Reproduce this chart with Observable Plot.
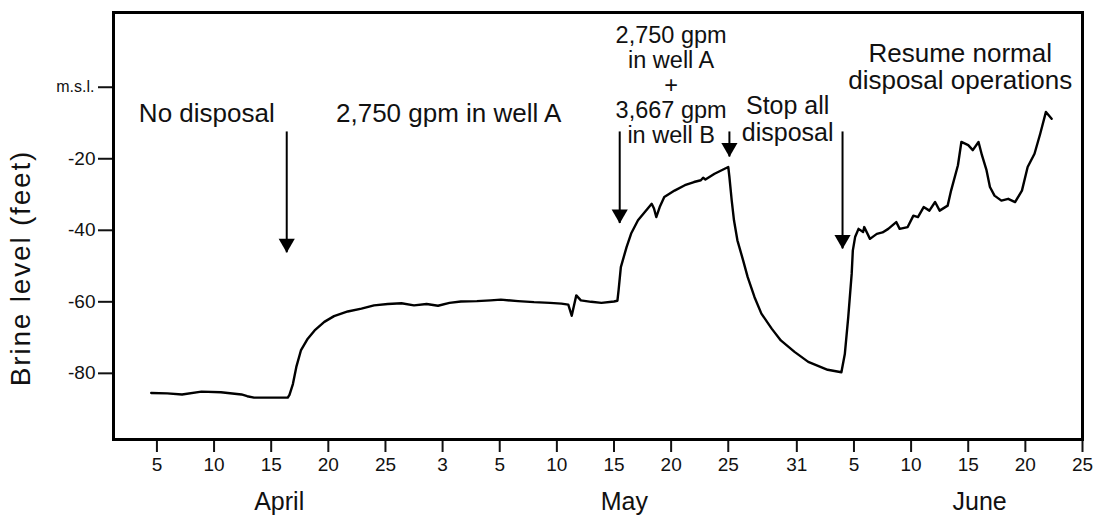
<!DOCTYPE html>
<html><head><meta charset="utf-8">
<script src="https://cdn.jsdelivr.net/npm/d3@7"></script>
<script src="https://cdn.jsdelivr.net/npm/@observablehq/plot@0.6"></script>
<style>
body{margin:0;background:#fff;}
#chart svg{font-family:"Liberation Sans",Arial,Helvetica,sans-serif;background:#fff;}
</style>
</head><body><div id="chart"></div>
<script>
// Day index along the (non-uniform) axis: one tick every 5 units, "31" one unit further
const day = [4.5,5.9,7.2,8.9,10.6,12.4,12.9,13.5,16.45,16.6,16.9,17.2,17.6,18.2,18.8,19.65,20.5,21.7,22.9,24.0,25.2,26.4,27.5,28.6,29.6,30.6,31.6,33.0,34.2,35.1,36.6,38.0,39.4,40.4,41.0,41.3,41.5,41.7,42.1,43.0,43.9,45.0,45.3,45.4,45.6,46.1,46.5,47.1,47.7,48.3,48.5,48.7,49.0,49.4,50.3,51.2,52.0,52.6,52.8,53.0,53.8,55.0,55.1,55.3,55.5,55.8,56.3,56.7,57.3,57.9,58.8,59.6,60.8,62.0,63.7,64.9,65.2,65.5,65.8,65.9,66.1,66.4,66.8,66.9,67.4,68.0,68.5,69.0,69.7,70.0,70.7,71.2,71.6,72.1,72.6,73.1,73.5,74.2,74.5,75.1,75.4,76.0,76.4,76.9,77.2,77.6,77.9,78.3,78.9,79.5,80.1,80.7,81.2,81.8,82.3,82.8,83.3];
const level = [-85.5,-85.6,-85.9,-85.1,-85.3,-85.9,-86.4,-86.8,-86.8,-86.0,-83.0,-78.2,-73.6,-70.3,-68.0,-65.6,-64.0,-62.7,-61.9,-61.0,-60.6,-60.4,-61.0,-60.6,-61.1,-60.3,-59.9,-59.8,-59.6,-59.4,-59.8,-60.1,-60.3,-60.5,-60.8,-63.9,-61.0,-58.2,-59.6,-60.0,-60.3,-59.9,-59.7,-56.8,-50.3,-44.7,-40.9,-37.2,-34.9,-32.6,-33.9,-36.3,-33.5,-30.7,-28.9,-27.4,-26.5,-26.0,-25.3,-25.8,-24.2,-22.3,-25.1,-31.6,-37.2,-42.8,-48.4,-53.1,-58.7,-63.3,-67.5,-70.8,-74.0,-76.8,-79.0,-79.7,-74.6,-64.3,-52.2,-45.7,-41.9,-39.6,-40.5,-39.1,-42.4,-41.0,-40.6,-39.6,-37.7,-39.6,-39.1,-35.9,-36.3,-33.5,-34.5,-32.1,-34.5,-33.1,-28.9,-21.8,-15.3,-16.2,-17.6,-15.3,-19.0,-23.2,-27.9,-30.3,-31.7,-31.2,-32.1,-28.9,-22.3,-18.6,-13.0,-6.9,-8.8];

const tickDays = [5,10,15,20,25,30,35,40,45,50,55,61,66,71,76,81,86];
const tickLabels = ["5","10","15","20","25","3","5","10","15","20","25","31","5","10","15","20","25"];
const yTicks = [-20,-40,-60,-80];
const mslTick = [0];
const months = ["April","May","June"];
const monthDays = [15.7,45.9,77.0];

// annotations (anchored in data coordinates)
const bigNotes = ["No disposal","2,750 gpm in well A"];
const bigNoteX = [3.42,20.67];
const bigNoteY = [-7.3,-7.3];
const stackNote = "2,750 gpm\nin well A\n+\n3,667 gpm\nin well B";
const stackX = 50.0, stackY = 0.6;
const stopNote = "Stop all\ndisposal";
const stopX = 60.2, stopY = -8.95;
const resumeNote = "Resume normal\ndisposal operations";
const resumeX = 75.3, resumeY = 5.6;
const arrowX = [16.36,45.5,55.1,65.0];
const arrowTop = [-12.5,-12.5,-12.5,-12.5];
const arrowTip = [-46.3,-38.1,-19.5,-45.2];

const data = day.map((d,i)=>({day:d, level:level[i]}));
const arrows = arrowX.map((x,i)=>({x, top:arrowTop[i], tip:arrowTip[i]}));
const notes = bigNotes.map((t,i)=>({t, x:bigNoteX[i], y:bigNoteY[i]}));
const monthRows = months.map((m,i)=>({m, x:monthDays[i]}));

const chart = Plot.plot({
  width:1100, height:525,
  marginLeft:113, marginRight:18, marginTop:12, marginBottom:86,
  x:{domain:[1.2,86], axis:null},
  y:{domain:[-98.5,20.9], axis:null},
  marks:[
    Plot.axisX({ticks:tickDays, tickFormat:(d)=>tickLabels[tickDays.indexOf(d)], tickSize:13, tickPadding:5, fontSize:19, strokeWidth:2, label:null, color:"#111"}),
    Plot.axisY({ticks:yTicks, tickFormat:d=>String(d), tickSize:15, tickPadding:3, fontSize:19, strokeWidth:2, label:null, color:"#111"}),
    Plot.axisY({ticks:mslTick, tickFormat:()=>"m.s.l.", tickSize:15, tickPadding:4, fontSize:16, strokeWidth:2, label:null, color:"#111"}),
    Plot.text(monthRows, {x:"x", text:"m", frameAnchor:"bottom", dy:70, fontSize:25, fill:"#111"}),
    Plot.text(["Brine level (feet)"], {frameAnchor:"left", textAnchor:"middle", dx:-92, dy:42, rotate:-90, fontSize:28, fill:"#111"}),
    Plot.line(data, {x:"day", y:"level", stroke:"#000", strokeWidth:2.4, strokeLinejoin:"round"}),
    Plot.ruleX(arrows, {x:"x", y1:"top", y2:"tip", stroke:"#000", strokeWidth:2}),
    Plot.dot(arrows, {x:"x", y:"tip", symbol:"triangle", rotate:180, r:6, fill:"#000", stroke:"none", dy:-9.3}),
    Plot.text(notes, {x:"x", y:"y", text:"t", textAnchor:"start", fontSize:26, fill:"#111"}),
    Plot.text([stackNote], {x:()=>stackX, y:()=>stackY, fontSize:23.5, lineHeight:1.07, fill:"#111"}),
    Plot.text([stopNote], {x:()=>stopX, y:()=>stopY, fontSize:25, lineHeight:1.07, fill:"#111"}),
    Plot.text([resumeNote], {x:()=>resumeX, y:()=>resumeY, fontSize:26, lineHeight:1.04, fill:"#111"}),
    Plot.frame({stroke:"#000", strokeWidth:3})
  ]
});
d3.select(chart).selectAll("text").filter(function(){return this.textContent==="Brine level (feet)";}).attr("letter-spacing","1.8px");
document.getElementById("chart").appendChild(chart);
</script>
</body></html>
